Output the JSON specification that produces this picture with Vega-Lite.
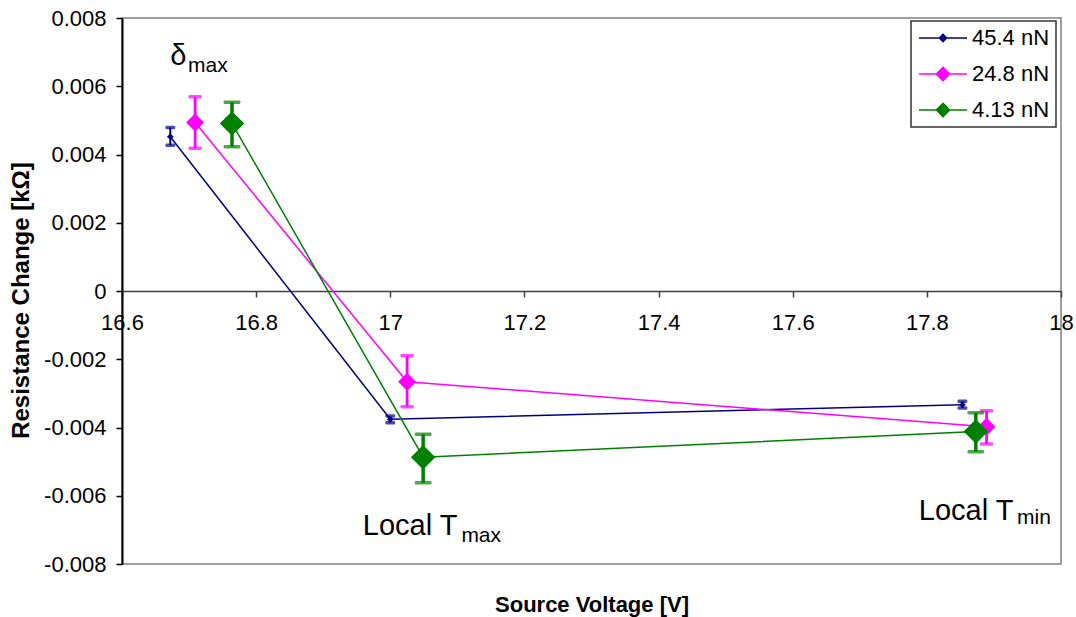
{
  "$schema": "https://vega.github.io/schema/vega-lite/v6.json",
  "width": 939,
  "height": 546,
  "autosize": "none",
  "padding": {"left": 122, "top": 18, "right": 15, "bottom": 53},
  "background": "white",
  "config": {
    "font": "Liberation Sans",
    "view": {"stroke": "#808080", "strokeWidth": 1.5}
  },
  "datasets": {
    "measurements": [
      {"series": "45.4 nN", "voltage": 16.672, "change": 0.00452, "lo": 0.00427, "hi": 0.00479},
      {"series": "45.4 nN", "voltage": 17.000, "change": -0.00376, "lo": -0.00386, "hi": -0.00366},
      {"series": "45.4 nN", "voltage": 17.853, "change": -0.00333, "lo": -0.00343, "hi": -0.00323},
      {"series": "24.8 nN", "voltage": 16.709, "change": 0.00494, "lo": 0.00418, "hi": 0.00569},
      {"series": "24.8 nN", "voltage": 17.025, "change": -0.00266, "lo": -0.00339, "hi": -0.00190},
      {"series": "24.8 nN", "voltage": 17.889, "change": -0.00398, "lo": -0.00448, "hi": -0.00351},
      {"series": "4.13 nN", "voltage": 16.764, "change": 0.00491, "lo": 0.00423, "hi": 0.00553},
      {"series": "4.13 nN", "voltage": 17.049, "change": -0.00487, "lo": -0.00562, "hi": -0.00420},
      {"series": "4.13 nN", "voltage": 17.873, "change": -0.00412, "lo": -0.00471, "hi": -0.00357}
    ],
    "notes": [
      {"voltage": 16.6960, "change": 0.00662, "label": "δ", "part": "main"},
      {"voltage": 16.6985, "change": 0.00641, "label": "max", "part": "sub"},
      {"voltage": 17.1000, "change": -0.00715, "label": "Local T", "part": "main"},
      {"voltage": 17.1060, "change": -0.00735, "label": "max", "part": "sub"},
      {"voltage": 17.9290, "change": -0.00671, "label": "Local T", "part": "main"},
      {"voltage": 17.9345, "change": -0.00683, "label": "min", "part": "sub"}
    ]
  },
  "data": {"name": "measurements"},
  "encoding": {
    "x": {
      "field": "voltage",
      "type": "quantitative",
      "title": "Source Voltage [V]",
      "scale": {"domain": [16.6, 18], "nice": false, "zero": false},
      "axis": {
        "offset": -273,
        "values": [16.6, 16.8, 17, 17.2, 17.4, 17.6, 17.8, 18],
        "labelExpr": "format(datum.value, '.1~f')",
        "labelFontSize": 22,
        "labelColor": "black",
        "labelPadding": 15,
        "labelFlush": false,
        "labelOverlap": false,
        "tickSize": 6,
        "tickColor": "#404040",
        "tickWidth": 1.5,
        "domainColor": "#404040",
        "domainWidth": 1.5,
        "grid": false,
        "titleFontSize": 22,
        "titleFontWeight": "bold",
        "titleColor": "black",
        "titleY": 313,
        "titleBaseline": "middle"
      }
    },
    "y": {
      "field": "change",
      "type": "quantitative",
      "title": "Resistance Change [kΩ]",
      "scale": {"domain": [-0.008, 0.008], "nice": false, "zero": false},
      "axis": {
        "values": [-0.008, -0.006, -0.004, -0.002, 0, 0.002, 0.004, 0.006, 0.008],
        "labelExpr": "datum.value == 0 ? '0' : (datum.value < 0 ? '-' : '') + format(abs(datum.value), '.3f')",
        "labelFontSize": 22,
        "labelColor": "black",
        "labelPadding": 10,
        "labelFlush": false,
        "labelOverlap": false,
        "tickSize": 6,
        "tickColor": "black",
        "tickWidth": 1.5,
        "domainColor": "black",
        "domainWidth": 2,
        "grid": false,
        "titleFontSize": 24,
        "titleFontWeight": "bold",
        "titleColor": "black",
        "titlePadding": 10,
        "titleY": 282
      }
    },
    "color": {
      "field": "series",
      "type": "nominal",
      "scale": {
        "domain": ["45.4 nN", "24.8 nN", "4.13 nN"],
        "range": ["#000080", "#ff00ff", "#008000"]
      },
      "legend": {
        "orient": "none",
        "legendX": 789,
        "legendY": 3,
        "title": null,
        "labelFont": "Liberation Sans",
        "labelFontSize": 22,
        "labelColor": "black",
        "symbolSize": 64,
        "symbolOffset": 15,
        "labelOffset": 18,
        "strokeColor": "#333333",
        "fillColor": "white",
        "padding": 6,
        "rowPadding": 14,
        "symbolStrokeWidth": 1.5,
        "encode": {
          "legend": {"update": {"strokeWidth": {"value": 1.5}}},
          "symbols": {
            "update": {
              "shape": {"signal": "datum.value == '45.4 nN' ? 'M-6,0H6M0,-0.9L0.9,0L0,0.9L-0.9,0Z' : 'M-6,0H6M0,-1.65L1.65,0L0,1.65L-1.65,0Z'"},
              "fill": {"scale": "color", "field": "value"},
              "stroke": {"scale": "color", "field": "value"},
              "strokeWidth": {"value": 1.5},
              "opacity": {"value": 1}
            }
          }
        }
      }
    }
  },
  "layer": [
    {
      "mark": {"type": "line", "strokeWidth": 1.5}
    },
    {
      "mark": {"type": "rule"},
      "encoding": {
        "y": {"field": "lo", "type": "quantitative", "title": "Resistance Change [kΩ]"},
        "y2": {"field": "hi"},
        "strokeWidth": {
          "field": "series",
          "type": "ordinal",
          "scale": {"domain": ["45.4 nN", "24.8 nN", "4.13 nN"], "range": [2, 3.5, 3.5]},
          "legend": null
        }
      }
    },
    {
      "mark": {"type": "tick", "orient": "horizontal", "thickness": 3.5, "cornerRadius": 1.5},
      "encoding": {
        "y": {"field": "lo", "type": "quantitative", "title": "Resistance Change [kΩ]"},
        "size": {
          "field": "series",
          "type": "ordinal",
          "scale": {"domain": ["45.4 nN", "24.8 nN", "4.13 nN"], "range": [10, 17, 17]},
          "legend": null
        }
      }
    },
    {
      "mark": {"type": "tick", "orient": "horizontal", "thickness": 3.5, "cornerRadius": 1.5},
      "encoding": {
        "y": {"field": "hi", "type": "quantitative", "title": "Resistance Change [kΩ]"},
        "size": {
          "field": "series",
          "type": "ordinal",
          "scale": {"domain": ["45.4 nN", "24.8 nN", "4.13 nN"], "range": [10, 17, 17]},
          "legend": null
        }
      }
    },
    {
      "mark": {"type": "point", "shape": "diamond", "filled": true, "opacity": 1},
      "encoding": {
        "size": {
          "field": "series",
          "type": "ordinal",
          "scale": {"domain": ["45.4 nN", "24.8 nN", "4.13 nN"], "range": [45, 600, 600]},
          "legend": null
        }
      }
    },
    {
      "data": {"name": "notes"},
      "transform": [{"filter": "datum.part == 'main'"}],
      "mark": {"type": "text", "fontSize": 29, "align": "right", "baseline": "alphabetic", "font": "Liberation Sans"},
      "encoding": {
        "text": {"field": "label"},
        "color": {"value": "black"}
      }
    },
    {
      "data": {"name": "notes"},
      "transform": [{"filter": "datum.part == 'sub'"}],
      "mark": {"type": "text", "fontSize": 21, "align": "left", "baseline": "alphabetic", "font": "Liberation Sans"},
      "encoding": {
        "text": {"field": "label"},
        "color": {"value": "black"}
      }
    }
  ],
  "resolve": {"scale": {"size": "independent", "strokeWidth": "independent"}}
}
